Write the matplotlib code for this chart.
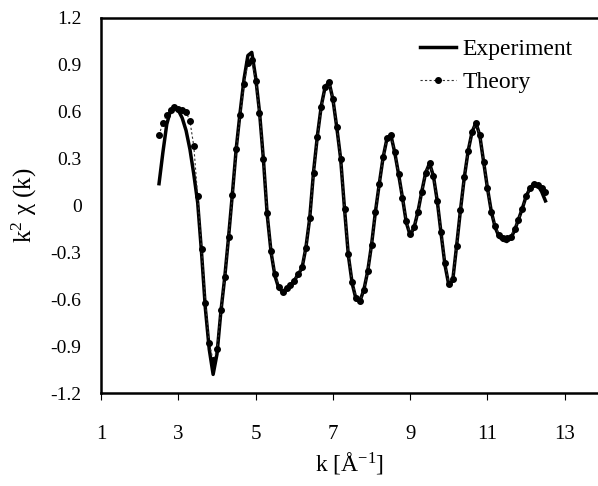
import numpy as np
import matplotlib
matplotlib.use("Agg")
import matplotlib.pyplot as plt

plt.rcParams['font.family'] = ['Liberation Serif', 'DejaVu Serif']
plt.rcParams['mathtext.fontset'] = 'custom'
plt.rcParams['mathtext.rm'] = 'Liberation Serif'
plt.rcParams['mathtext.it'] = 'Liberation Serif'

# k grid (1/Angstrom)
k = np.round(np.arange(2.5, 12.55, 0.1), 2)

# k^2 chi(k), experiment
exp_chi = [0.14, 0.34, 0.52, 0.61, 0.63, 0.61, 0.56, 0.48, 0.36, 0.20,
           0.02, -0.30, -0.66, -0.92, -1.08, -0.95, -0.68, -0.46, -0.20, 0.08,
           0.37, 0.60, 0.81, 0.96, 0.98, 0.82, 0.60, 0.30, -0.06, -0.30,
           -0.45, -0.53, -0.55, -0.53, -0.51, -0.48, -0.44, -0.40, -0.27, -0.08,
           0.22, 0.45, 0.64, 0.76, 0.79, 0.68, 0.50, 0.30, -0.02, -0.32,
           -0.50, -0.60, -0.61, -0.54, -0.42, -0.25, -0.04, 0.14, 0.31, 0.43,
           0.45, 0.34, 0.20, 0.05, -0.11, -0.19, -0.14, -0.04, 0.09, 0.21,
           0.27, 0.19, 0.03, -0.18, -0.38, -0.51, -0.48, -0.26, -0.03, 0.18,
           0.35, 0.47, 0.53, 0.45, 0.28, 0.11, -0.04, -0.14, -0.20, -0.22,
           -0.23, -0.21, -0.16, -0.09, -0.02, 0.06, 0.11, 0.14, 0.13, 0.09,
           0.03]

# k^2 chi(k), theory
theo_chi = [0.45, 0.53, 0.58, 0.61, 0.63, 0.62, 0.61, 0.60, 0.54, 0.38,
            0.06, -0.28, -0.62, -0.88, -0.99, -0.92, -0.67, -0.46, -0.20, 0.07,
            0.36, 0.58, 0.78, 0.91, 0.93, 0.80, 0.59, 0.30, -0.05, -0.29,
            -0.44, -0.52, -0.55, -0.53, -0.51, -0.48, -0.44, -0.39, -0.27, -0.08,
            0.21, 0.44, 0.63, 0.76, 0.79, 0.68, 0.50, 0.30, -0.02, -0.31,
            -0.49, -0.59, -0.61, -0.54, -0.42, -0.25, -0.04, 0.14, 0.31, 0.43,
            0.45, 0.34, 0.20, 0.05, -0.10, -0.18, -0.14, -0.04, 0.09, 0.21,
            0.27, 0.19, 0.03, -0.17, -0.37, -0.50, -0.47, -0.26, -0.03, 0.18,
            0.35, 0.47, 0.53, 0.45, 0.28, 0.11, -0.04, -0.13, -0.19, -0.21,
            -0.21, -0.20, -0.15, -0.09, -0.02, 0.06, 0.11, 0.14, 0.13, 0.11,
            0.09]

xticks = [1, 3, 5, 7, 9, 11, 13]
yticks = [-1.2, -0.9, -0.6, -0.3, 0, 0.3, 0.6, 0.9, 1.2]
ytick_labels = ['-1.2', '-0.9', '-0.6', '-0.3', '0', '0.3', '0.6', '0.9', '1.2']

fig = plt.figure(figsize=(5.98, 4.86), dpi=100)
ax = fig.add_axes([0.169, 0.191, 0.831, 0.772])

ax.plot(k, exp_chi, color='black', lw=2.5, label='Experiment', zorder=2)
ax.plot(k, theo_chi, color='#333333', lw=0.8, ls=(0, (2, 2)),
        marker='o', ms=4, mfc='black', mec='black', label='Theory', zorder=3)

ax.set_xlim(1, 13.86)
ax.set_ylim(-1.2, 1.2)
ax.set_xticks(xticks)
ax.set_yticks(yticks)
ax.set_yticklabels(ytick_labels)

for side in ['left', 'bottom', 'top']:
    ax.spines[side].set_linewidth(1.8)
ax.spines['right'].set_visible(False)

ax.tick_params(axis='x', direction='out', length=5, width=0.8,
               labelsize=15, pad=18)
ax.tick_params(axis='y', length=0, labelsize=14, pad=14)

ax.set_xlabel('k [Å$^{-1}$]', fontsize=17, labelpad=4)
ax.set_ylabel('k$^{2}$ χ (k)', fontsize=18, labelpad=8)

leg = ax.legend(loc='upper left', bbox_to_anchor=(0.642, 0.945), frameon=False,
                fontsize=17, handlelength=1.5, handletextpad=0.3,
                borderpad=0, borderaxespad=0, labelspacing=0.5, numpoints=1)

fig.savefig('out.png', dpi=100)
